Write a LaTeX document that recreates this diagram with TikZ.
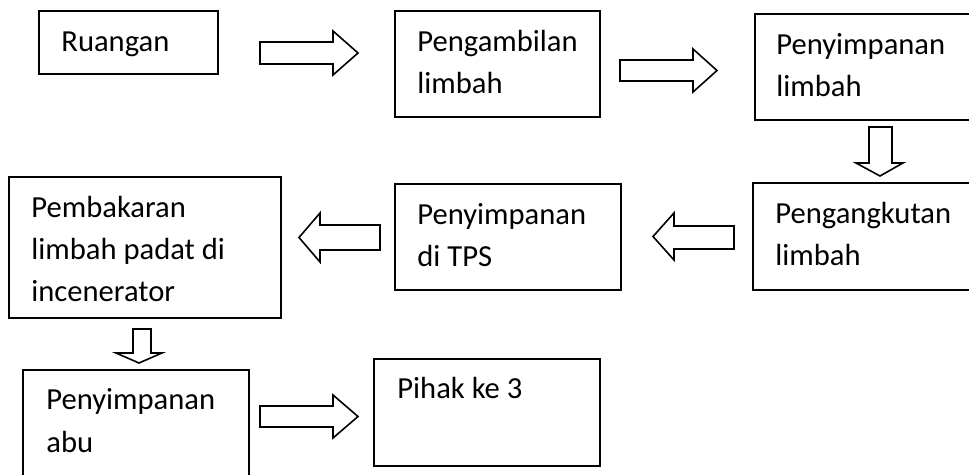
\documentclass[tikz,border=0pt]{standalone}
\usepackage{fontspec}
\setmainfont{Carlito}
\usepackage{tikz}

\tikzset{
  kotak/.style={line width=1pt},
  panah/.style={line width=0.8pt, line join=miter},
  teks/.style={font=\fontsize{15.3}{21}\selectfont, align=left, anchor=base west, inner sep=0pt}
}

\begin{document}
\begin{tikzpicture}[x=0.5pt,y=-0.5pt]
\clip (0,0) rectangle (969,475);
%Kotak
\draw[kotak] (39,11) rectangle (218,74);
\draw[kotak] (395,11) rectangle (600,117);
\draw[kotak] (755,14) rectangle (1000,120);
\draw[kotak] (753,183) rectangle (1000,290);
\draw[kotak] (395,184) rectangle (621,290);
\draw[kotak] (9,177) rectangle (281,318);
\draw[kotak] (23,370) rectangle (249,500);
\draw[kotak] (374,359) rectangle (600,466);
%Panah
\draw[panah] (260,42) -- (333,42) -- (333,31) -- (358,53) -- (333,75) -- (333,64) -- (260,64) -- cycle;
\draw[panah] (620,60) -- (693,60) -- (693,49) -- (717,70.5) -- (693,92) -- (693,81) -- (620,81) -- cycle;
\draw[panah] (869,127) -- (869,163) -- (856,163) -- (880,176) -- (903,163) -- (892,163) -- (892,127) -- cycle;
\draw[panah] (734,226) -- (674,226) -- (674,213) -- (653,236.5) -- (674,260) -- (674,249) -- (734,249) -- cycle;
\draw[panah] (380,225) -- (320,225) -- (320,213) -- (299,237.5) -- (320,262) -- (320,250) -- (380,250) -- cycle;
\draw[panah] (133,329) -- (133,353) -- (116,353) -- (139,363) -- (162,353) -- (151,353) -- (151,329) -- cycle;
\draw[panah] (260,406) -- (333,406) -- (333,395) -- (358,416.5) -- (333,438) -- (333,427) -- (260,427) -- cycle;
%Teks (baseline baris terakhir)
\node[teks] (ruangan) at (61,52) {Ruangan};
\node[teks] (ambil) at (417,94) {Pengambilan\\limbah};
\node[teks] (simpan) at (776,97) {Penyimpanan\\limbah};
\node[teks] (angkut) at (775,266) {Pengangkutan\\limbah};
\node[teks] (tps) at (417,267) {Penyimpanan\\di TPS};
\node[teks] (bakar) at (31,302) {Pembakaran\\limbah padat di\\incenerator};
\node[teks] (abu) at (46,452) {Penyimpanan\\abu};
\node[teks] (pihak) at (397,399) {Pihak ke 3};
\end{tikzpicture}
\end{document}
